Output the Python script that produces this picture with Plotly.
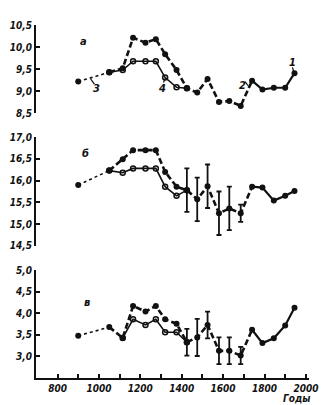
import plotly.graph_objects as go

years = [900, 1050, 1115, 1165, 1225, 1275, 1320, 1375, 1425, 1475, 1525, 1580, 1630, 1685, 1740, 1790, 1845, 1900, 1945]

a_main = [9.22, 9.43, 9.52, 10.21, 10.10, 10.18, 9.84, 9.48, 9.07, 8.97, 9.28, 8.76, 8.78, 8.67, 9.24, 9.04, 9.08, 9.08, 9.41]
a_open_years = [1050, 1115, 1165, 1225, 1275, 1320, 1375, 1425]
a_open = [9.43, 9.48, 9.68, 9.68, 9.68, 9.31, 9.09, 9.07]

b_main = [15.90, 16.23, 16.49, 16.70, 16.70, 16.70, 16.20, 15.86, 15.78, 15.57, 15.87, 15.25, 15.36, 15.25, 15.86, 15.84, 15.54, 15.65, 15.76]
b_open_years = [1050, 1115, 1165, 1225, 1275, 1320, 1375, 1425]
b_open = [16.23, 16.18, 16.28, 16.28, 16.28, 15.86, 15.65, 15.78]

c_main = [3.48, 3.68, 3.43, 4.17, 4.04, 4.17, 3.86, 3.76, 3.33, 3.44, 3.73, 3.13, 3.13, 3.02, 3.62, 3.31, 3.42, 3.72, 4.13]
c_open_years = [1115, 1165, 1225, 1275, 1320, 1375, 1425]
c_open = [3.43, 3.86, 3.73, 3.86, 3.56, 3.56, 3.33]

err_years = [1425, 1475, 1525, 1580, 1630, 1685]
b_err = [0.5, 0.5, 0.5, 0.5, 0.5, 0.2]
c_err = [0.31, 0.43, 0.31, 0.31, 0.31, 0.2]

a_ticks = [8.5, 9.0, 9.5, 10.0, 10.5]
a_ticktext = ["8,5", "9,0", "9,5", "10,0", "10,5"]
b_ticks = [14.5, 15.0, 15.5, 16.0, 16.5, 17.0]
b_ticktext = ["14,5", "15,0", "15,5", "16,0", "16,5", "17,0"]
c_ticks = [3.0, 3.5, 4.0, 4.5, 5.0]
c_ticktext = ["3,0", "3,5", "4,0", "4,5", "5,0"]
x_ticks = list(range(800, 2001, 100))
x_ticktext = [str(v) if v % 200 == 0 else "" for v in x_ticks]

BLACK = "#111111"
FONT = "DejaVu Sans Condensed, DejaVu Sans, sans-serif"

fig = go.Figure()

def add_panel(main, oyears, ovals, yaxis, errs=None):
    # dotted early segment
    fig.add_trace(go.Scatter(x=years[0:2], y=main[0:2], yaxis=yaxis, mode="lines",
                             line=dict(color=BLACK, width=1.6, dash="dot"), showlegend=False, hoverinfo="skip"))
    # dashed main segment
    fig.add_trace(go.Scatter(x=years[1:15], y=main[1:15], yaxis=yaxis, mode="lines",
                             line=dict(color=BLACK, width=2.6, dash="6px,3px"), showlegend=False, hoverinfo="skip"))
    # solid late segment
    fig.add_trace(go.Scatter(x=years[14:], y=main[14:], yaxis=yaxis, mode="lines",
                             line=dict(color=BLACK, width=2.2), showlegend=False, hoverinfo="skip"))
    # open-circle series
    fig.add_trace(go.Scatter(x=oyears, y=ovals, yaxis=yaxis, mode="lines+markers",
                             line=dict(color=BLACK, width=1.6),
                             marker=dict(symbol="circle-open", size=5, color=BLACK, line=dict(width=1.5)),
                             showlegend=False, hoverinfo="skip"))
    # filled markers
    fig.add_trace(go.Scatter(x=years, y=main, yaxis=yaxis, mode="markers",
                             marker=dict(symbol="circle", size=6, color=BLACK),
                             showlegend=False, hoverinfo="skip", cliponaxis=False))
    if errs is not None:
        ey = [main[years.index(v)] for v in err_years]
        fig.add_trace(go.Scatter(x=err_years, y=ey, yaxis=yaxis, mode="markers",
                                 marker=dict(size=1, color=BLACK),
                                 error_y=dict(type="data", array=errs, visible=True, color=BLACK,
                                              thickness=1.8, width=2.5),
                                 showlegend=False, hoverinfo="skip"))

add_panel(a_main, a_open_years, a_open, "y")
add_panel(b_main, b_open_years, b_open, "y2", b_err)
add_panel(c_main, c_open_years, c_open, "y3", c_err)

tickfont = dict(family=FONT, size=10, color=BLACK, style="italic", weight="bold")

yax_common = dict(showgrid=False, zeroline=False, showline=True, linecolor=BLACK, linewidth=2,
                  ticks="inside", ticklen=4, tickwidth=1.5, tickcolor=BLACK, tickfont=tickfont,
                  anchor="x", fixedrange=True)

fig.update_layout(
    width=328, height=405,
    margin=dict(l=23.5, r=9.7, t=25, b=27.3),
    paper_bgcolor="white", plot_bgcolor="white",
    xaxis=dict(range=[696, 2015], tickvals=x_ticks, ticktext=x_ticktext, showgrid=False, zeroline=False,
               showline=True, linecolor=BLACK, linewidth=2, ticks="inside", ticklen=4, tickwidth=1.5,
               tickcolor=BLACK, tickfont=tickfont, anchor="y3"),
    yaxis=dict(domain=[0.7496, 1.0], range=[8.5, 10.5], tickvals=a_ticks, ticktext=a_ticktext, **yax_common),
    yaxis2=dict(domain=[0.3743, 0.6825], range=[14.5, 17.0], tickvals=b_ticks, ticktext=b_ticktext, **yax_common),
    yaxis3=dict(domain=[0.0, 0.3054], range=[2.5, 5.0], tickvals=c_ticks, ticktext=c_ticktext, **yax_common),
)

lab = dict(family=FONT, size=11, color=BLACK, style="italic", weight="bold")
anns = [
    dict(x=926, y=10.12, yref="y", text="а"),
    dict(x=990, y=9.07, yref="y", text="3"),
    dict(x=1307, y=9.07, yref="y", text="4"),
    dict(x=1356, y=10.68, yref="y", text="1"),
    dict(x=1692, y=9.14, yref="y", text="2"),
    dict(x=1933, y=9.66, yref="y", text="1"),
]
for a in anns:
    fig.add_annotation(x=a["x"], y=a["y"], xref="x", yref=a["yref"], text=a["text"],
                       showarrow=False, font=lab)
fig.add_annotation(x=935, y=16.63, xref="x", yref="y2", text="б", showarrow=False, font=lab)
fig.add_annotation(x=940, y=4.25, xref="x", yref="y3", text="в", showarrow=False, font=lab)

for yv, yr in [(10.84, "y"), (17.28, "y2"), (5.30, "y3")]:
    fig.add_annotation(x=-0.045, y=yv, xref="paper", yref=yr, text="°C", showarrow=False,
                       font=dict(family=FONT, size=10, color=BLACK, weight="bold"))

fig.add_annotation(x=1955, y=2.5, xref="x", yref="y3", text="Годы", showarrow=False, yanchor="top",
                   yshift=-13, font=dict(family=FONT, size=10, color=BLACK, style="italic", weight="bold"))

# leader lines for curve labels
leaders = [
    (960, 9.28, 978, 9.16),
    (1312, 9.2, 1322, 9.31),
    (1706, 9.22, 1722, 9.12),
    (1935, 9.54, 1942, 9.43),
]
for x0, y0, x1, y1 in leaders:
    fig.add_shape(type="line", x0=x0, y0=y0, x1=x1, y1=y1, xref="x", yref="y",
                  line=dict(color=BLACK, width=1.2))

fig.write_html("out.html")
